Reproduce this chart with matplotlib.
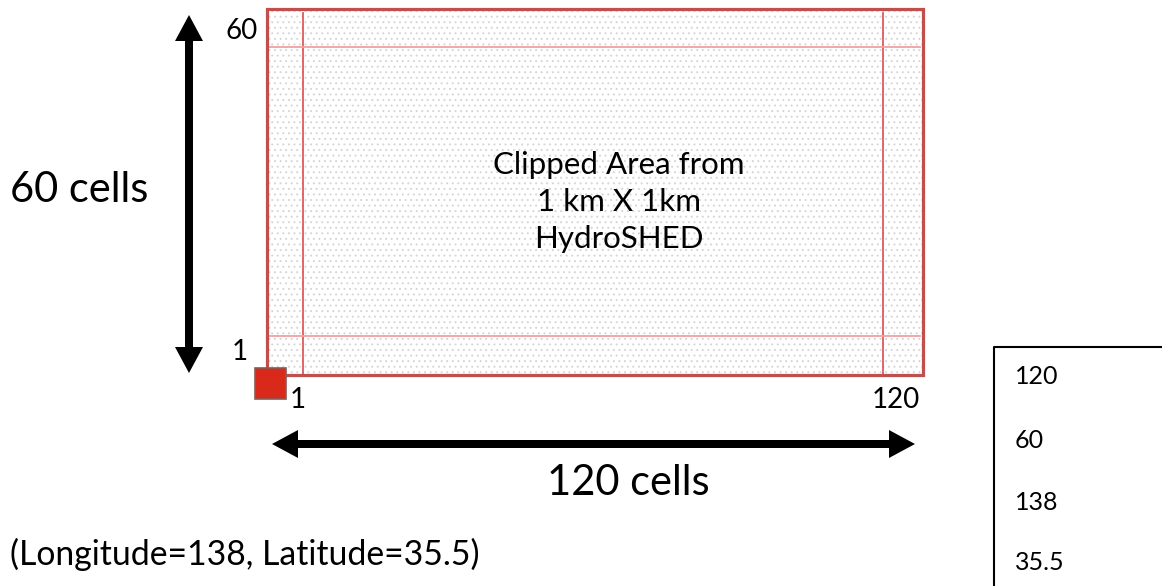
import matplotlib
matplotlib.use("Agg")
import matplotlib.pyplot as plt
from matplotlib.patches import Rectangle, FancyArrow

# grid description
n_cols = 120
n_rows = 60
lon0 = 138
lat0 = 35.5
title_lines = ["Clipped Area from", "1 km X 1km", "HydroSHED"]
table_vals = [n_cols, n_rows, lon0, lat0]

plt.rcParams['font.family'] = ['Lato', 'DejaVu Sans']
plt.rcParams['hatch.linewidth'] = 0.7

fig = plt.figure(figsize=(11.62, 5.86), dpi=100)
ax = fig.add_axes([0, 0, 1, 1])
ax.set_xlim(0, 1162)
ax.set_ylim(586, 0)
ax.axis('off')

# clipped area box (pixel layout)
x0, x1, y0, y1 = 267, 923, 9, 375
ax.add_patch(Rectangle((x0, y0), x1 - x0, y1 - y0, facecolor='white',
                       edgecolor='#d6d6d6', lw=0, hatch='...', zorder=1))
ax.add_patch(Rectangle((x0, y0), x1 - x0, y1 - y0, facecolor='none',
                       edgecolor='#c0504d', lw=2.3, zorder=4))

# first / last cell guides
ax.plot([303, 303], [y0 + 4, y1], color='#e05a5a', lw=1.3, zorder=3)
ax.plot([883, 883], [y0 + 4, y1], color='#e05a5a', lw=1.3, zorder=3)
ax.plot([x0, x1 - 3], [47, 47], color='#f2a0a0', lw=1.3, zorder=3)
ax.plot([x0, x1 - 3], [336, 336], color='#f2a0a0', lw=1.3, zorder=3)

# origin cell
ax.add_patch(Rectangle((255, 368), 31, 31, facecolor='#d9291a',
                       edgecolor='#8a5a55', lw=1.2, zorder=5))

# corner labels
lab = dict(fontsize=20, ha='center', va='center')
ax.text(242, 31, str(n_rows), **lab)
ax.text(240, 352, '1', **lab)
ax.text(298, 400, '1', **lab)
ax.text(896, 400, str(n_cols), **lab)

# centre text
for i, line in enumerate(title_lines):
    ax.text(619, 165 + 37 * i, line, fontsize=22.5, ha='center', va='center')

# double-headed arrows, drawn as two overlapping halves from the middle
arr = dict(width=8, head_width=28, head_length=26, length_includes_head=True,
           color='black', lw=0, zorder=5)
vx, vt, vb = 189, 15, 373
vm = (vt + vb) / 2
ax.add_patch(FancyArrow(vx, vm + 5, 0, vt - vm - 5, **arr))
ax.add_patch(FancyArrow(vx, vm - 5, 0, vb - vm + 5, **arr))
hy, hl, hr = 444, 272, 915
hm = (hl + hr) / 2
ax.add_patch(FancyArrow(hm + 5, hy, hl - hm - 5, 0, **arr))
ax.add_patch(FancyArrow(hm - 5, hy, hr - hm + 5, 0, **arr))

ax.text(79, 190, f'{n_rows} cells', fontsize=30, ha='center', va='center')
ax.text(628, 483, f'{n_cols} cells', fontsize=30, ha='center', va='center')
ax.text(245, 554, f'(Longitude={lon0}, Latitude={lat0})', fontsize=24.3,
        ha='center', va='center')

# side table
ax.plot([994, 994, 1162], [586, 347, 347], color='black', lw=1.5)
ypos = [377, 441, 503, 563]
for v, yy in zip(table_vals, ypos):
    ax.text(1015, yy, str(v), fontsize=18, ha='left', va='center')

fig.savefig('out.png', dpi=100)
